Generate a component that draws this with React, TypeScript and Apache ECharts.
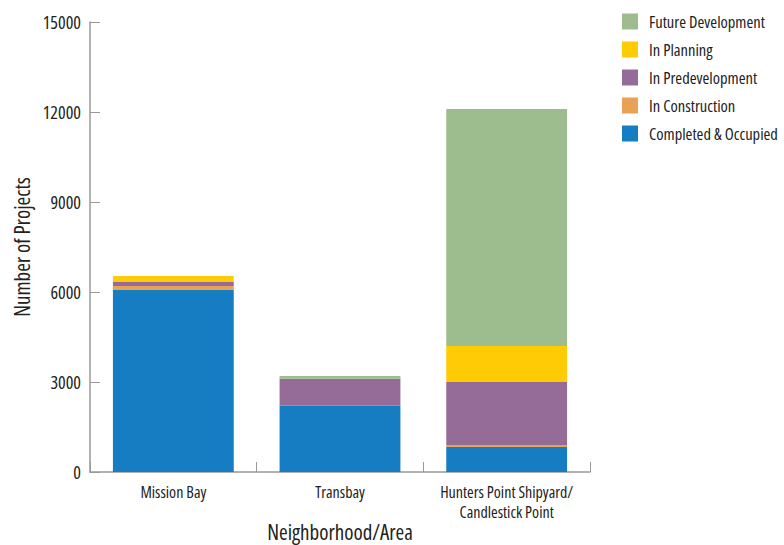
import React, { useEffect, useRef } from "react";
import * as echarts from "echarts";

const categories = ["Mission Bay", "Transbay", "Hunters Point Shipyard/\nCandlestick Point"];
const completed = [6070, 2210, 830];
const construction = [130, 0, 70];
const predevelopment = [130, 900, 2100];
const planning = [200, 0, 1200];
const future = [0, 90, 7900];
const yTicks = [0, 3000, 6000, 9000, 12000, 15000];

const FONT = "'Open Sans', 'Roboto Condensed', sans-serif";
const TXT = "#222";

export default function App() {
  const ref = useRef<HTMLDivElement>(null);
  useEffect(() => {
    if (!ref.current) return;
    const chart = echarts.init(ref.current, undefined, { renderer: "svg" });
    const mk = (name: string, data: number[], color: string) => ({
      name,
      type: "bar",
      stack: "total",
      data,
      barWidth: "72.5%",
      itemStyle: { color },
      emphasis: { disabled: true },
    });
    chart.setOption({
      animation: false,
      textStyle: { fontFamily: FONT },
      grid: { left: 90, right: 194, top: 22, bottom: 73, containLabel: false, outerBoundsMode: "none" },
      legend: {
        orient: "vertical",
        left: 617,
        top: 8,
        itemWidth: 16,
        itemHeight: 16,
        itemGap: 11,
        icon: "rect",
        data: ["Future Development", "In Planning", "In Predevelopment", "In Construction", "Completed & Occupied"],
        textStyle: { fontFamily: FONT, fontSize: 16.5, color: TXT, padding: [0, 0, 0, 6] },
        selectedMode: false,
      },
      xAxis: {
        type: "category",
        data: categories,
        name: "Neighborhood/Area",
        nameLocation: "middle",
        nameGap: 49,
        nameMoveOverlap: false,
        nameTextStyle: { fontFamily: FONT, fontSize: 21, color: TXT },
        axisLine: { lineStyle: { color: "#999", width: 1.5 } },
        axisTick: { show: true, inside: true, length: 10, lineStyle: { color: "#999" }, alignWithLabel: false },
        axisLabel: { fontFamily: FONT, fontSize: 16, color: TXT, margin: 10, lineHeight: 20, interval: 0 },
      },
      yAxis: {
        type: "value",
        min: 0,
        max: 15000,
        interval: 3000,
        name: "Number of Projects",
        nameLocation: "middle",
        nameGap: 58,
        nameMoveOverlap: false,
        nameTextStyle: { fontFamily: FONT, fontSize: 21, color: TXT },
        axisLine: { show: true, lineStyle: { color: "#999", width: 1.5 } },
        axisTick: { show: true, inside: true, length: 10, lineStyle: { color: "#999" } },
        splitLine: { show: false },
        axisLabel: {
          fontFamily: FONT,
          fontSize: 18,
          color: TXT,
          margin: 9,
          formatter: (v: number) => (yTicks.includes(v) ? String(v) : ""),
        },
      },
      series: [
        mk("Completed & Occupied", completed, "#167DC3"),
        mk("In Construction", construction, "#E9A155"),
        mk("In Predevelopment", predevelopment, "#956B97"),
        mk("In Planning", planning, "#FFCB05"),
        mk("Future Development", future, "#9DBD8F"),
      ],
    });
    return () => chart.dispose();
  }, []);
  return (
    <>
      <style>{"#chart-box text { font-stretch: 75% !important; }"}</style>
      <div id="chart-box" ref={ref} style={{ width: 784, height: 545, position: "absolute", left: 0, top: 0, background: "#fff" }} />
    </>
  );
}
